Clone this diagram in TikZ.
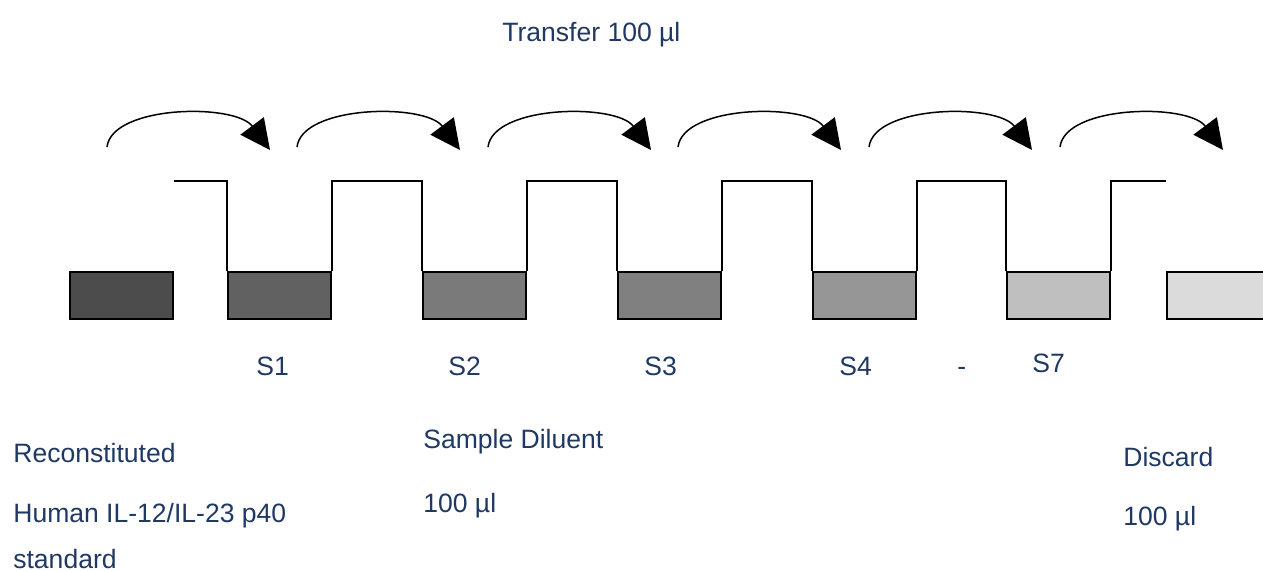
\documentclass[tikz,border=0pt]{standalone}
\usepackage{fontspec}
\setmainfont{Liberation Sans}
\usetikzlibrary{arrows.meta,positioning,calc}
\definecolor{labelblue}{HTML}{1F3864}

\begin{document}
\begin{tikzpicture}[x=0.2mm, y=-0.2mm, >={Triangle[length=6mm,width=5.8mm]},
      tube/.style={rectangle,draw=black,line width=0.4mm,minimum width=20.6mm,minimum height=9.4mm,inner sep=0pt},
      wall/.style={draw=black,line width=0.4mm},
      hop/.style={->,line width=0.3mm},
      lbl/.style={anchor=base west,inner sep=0pt,text=labelblue,font=\fontsize{15.1}{18}\selectfont}]
      \clip (0,0) rectangle (1263,571);
      % tubes of the dilution series
      \node[tube,fill=black!70] at (121.5,295.5) (tube0) {};
      \node[tube,fill=black!62] at (279.5,295.5) (tube1) {};
      \node[tube,fill=black!52] at (474.5,295.5) (tube2) {};
      \node[tube,fill=black!50] at (669.5,295.5) (tube3) {};
      \node[tube,fill=black!41] at (864,295.5)   (tube4) {};
      \node[tube,fill=black!25] at (1058,295.5)  (tube5) {};
      \node[tube,fill=black!14,minimum width=30mm] at (1242,295.5) (tube6) {};
      \coordinate (top) at (0,181);
      % walls between tubes
      \draw[wall] (tube0.north east |- top) -| (tube1.north west);
      \draw[wall] (tube1.north east) |- ($(tube1.north east |- top)!0.5!(tube2.north west |- top)$) -| (tube2.north west);
      \draw[wall] (tube2.north east) |- ($(tube2.north east |- top)!0.5!(tube3.north west |- top)$) -| (tube3.north west);
      \draw[wall] (tube3.north east) |- ($(tube3.north east |- top)!0.5!(tube4.north west |- top)$) -| (tube4.north west);
      \draw[wall] (tube4.north east) |- ($(tube4.north east |- top)!0.5!(tube5.north west |- top)$) -| (tube5.north west);
      \draw[wall] (tube5.north east) |- (1166,181);
      % transfer arrows
      \foreach \s/\t [count=\i] in {107/270,297/460,488/651,678/841,869/1032,1060/1223}{
        \coordinate (from\i) at (\s,147);
        \coordinate (to\i) at (\t,150);
        \draw[hop] (from\i) .. controls ($(from\i)+(5,-42)$) and ($(to\i)+(-35,-47)$) .. (to\i);
      }
      % labels
      \node[lbl] at (502,42)  (transfer) {Transfer 100 µl};
      \node[lbl] at (256,375) (s1) {S1};
      \node[lbl] at (448,375) (s2) {S2};
      \node[lbl] at (644,375) (s3) {S3};
      \node[lbl] at (839,375) (s4) {S4};
      \node[lbl] at (957,375) (dash) {-};
      \node[lbl] at (1032,372) (s7) {S7};
      \node[lbl] at (13,462)  (recon) {Reconstituted};
      \node[lbl] at (13,522)  (human) {Human IL-12/IL-23 p40};
      \node[lbl] at (13,568)  (std) {standard};
      \node[lbl] at (423,448) (diluent) {Sample Diluent};
      \node[lbl] at (423,512) (dilvol) {100 µl};
      \node[lbl] at (1123,466) (discard) {Discard};
      \node[lbl] at (1123,525) (discvol) {100 µl};
    \end{tikzpicture}
\end{document}
